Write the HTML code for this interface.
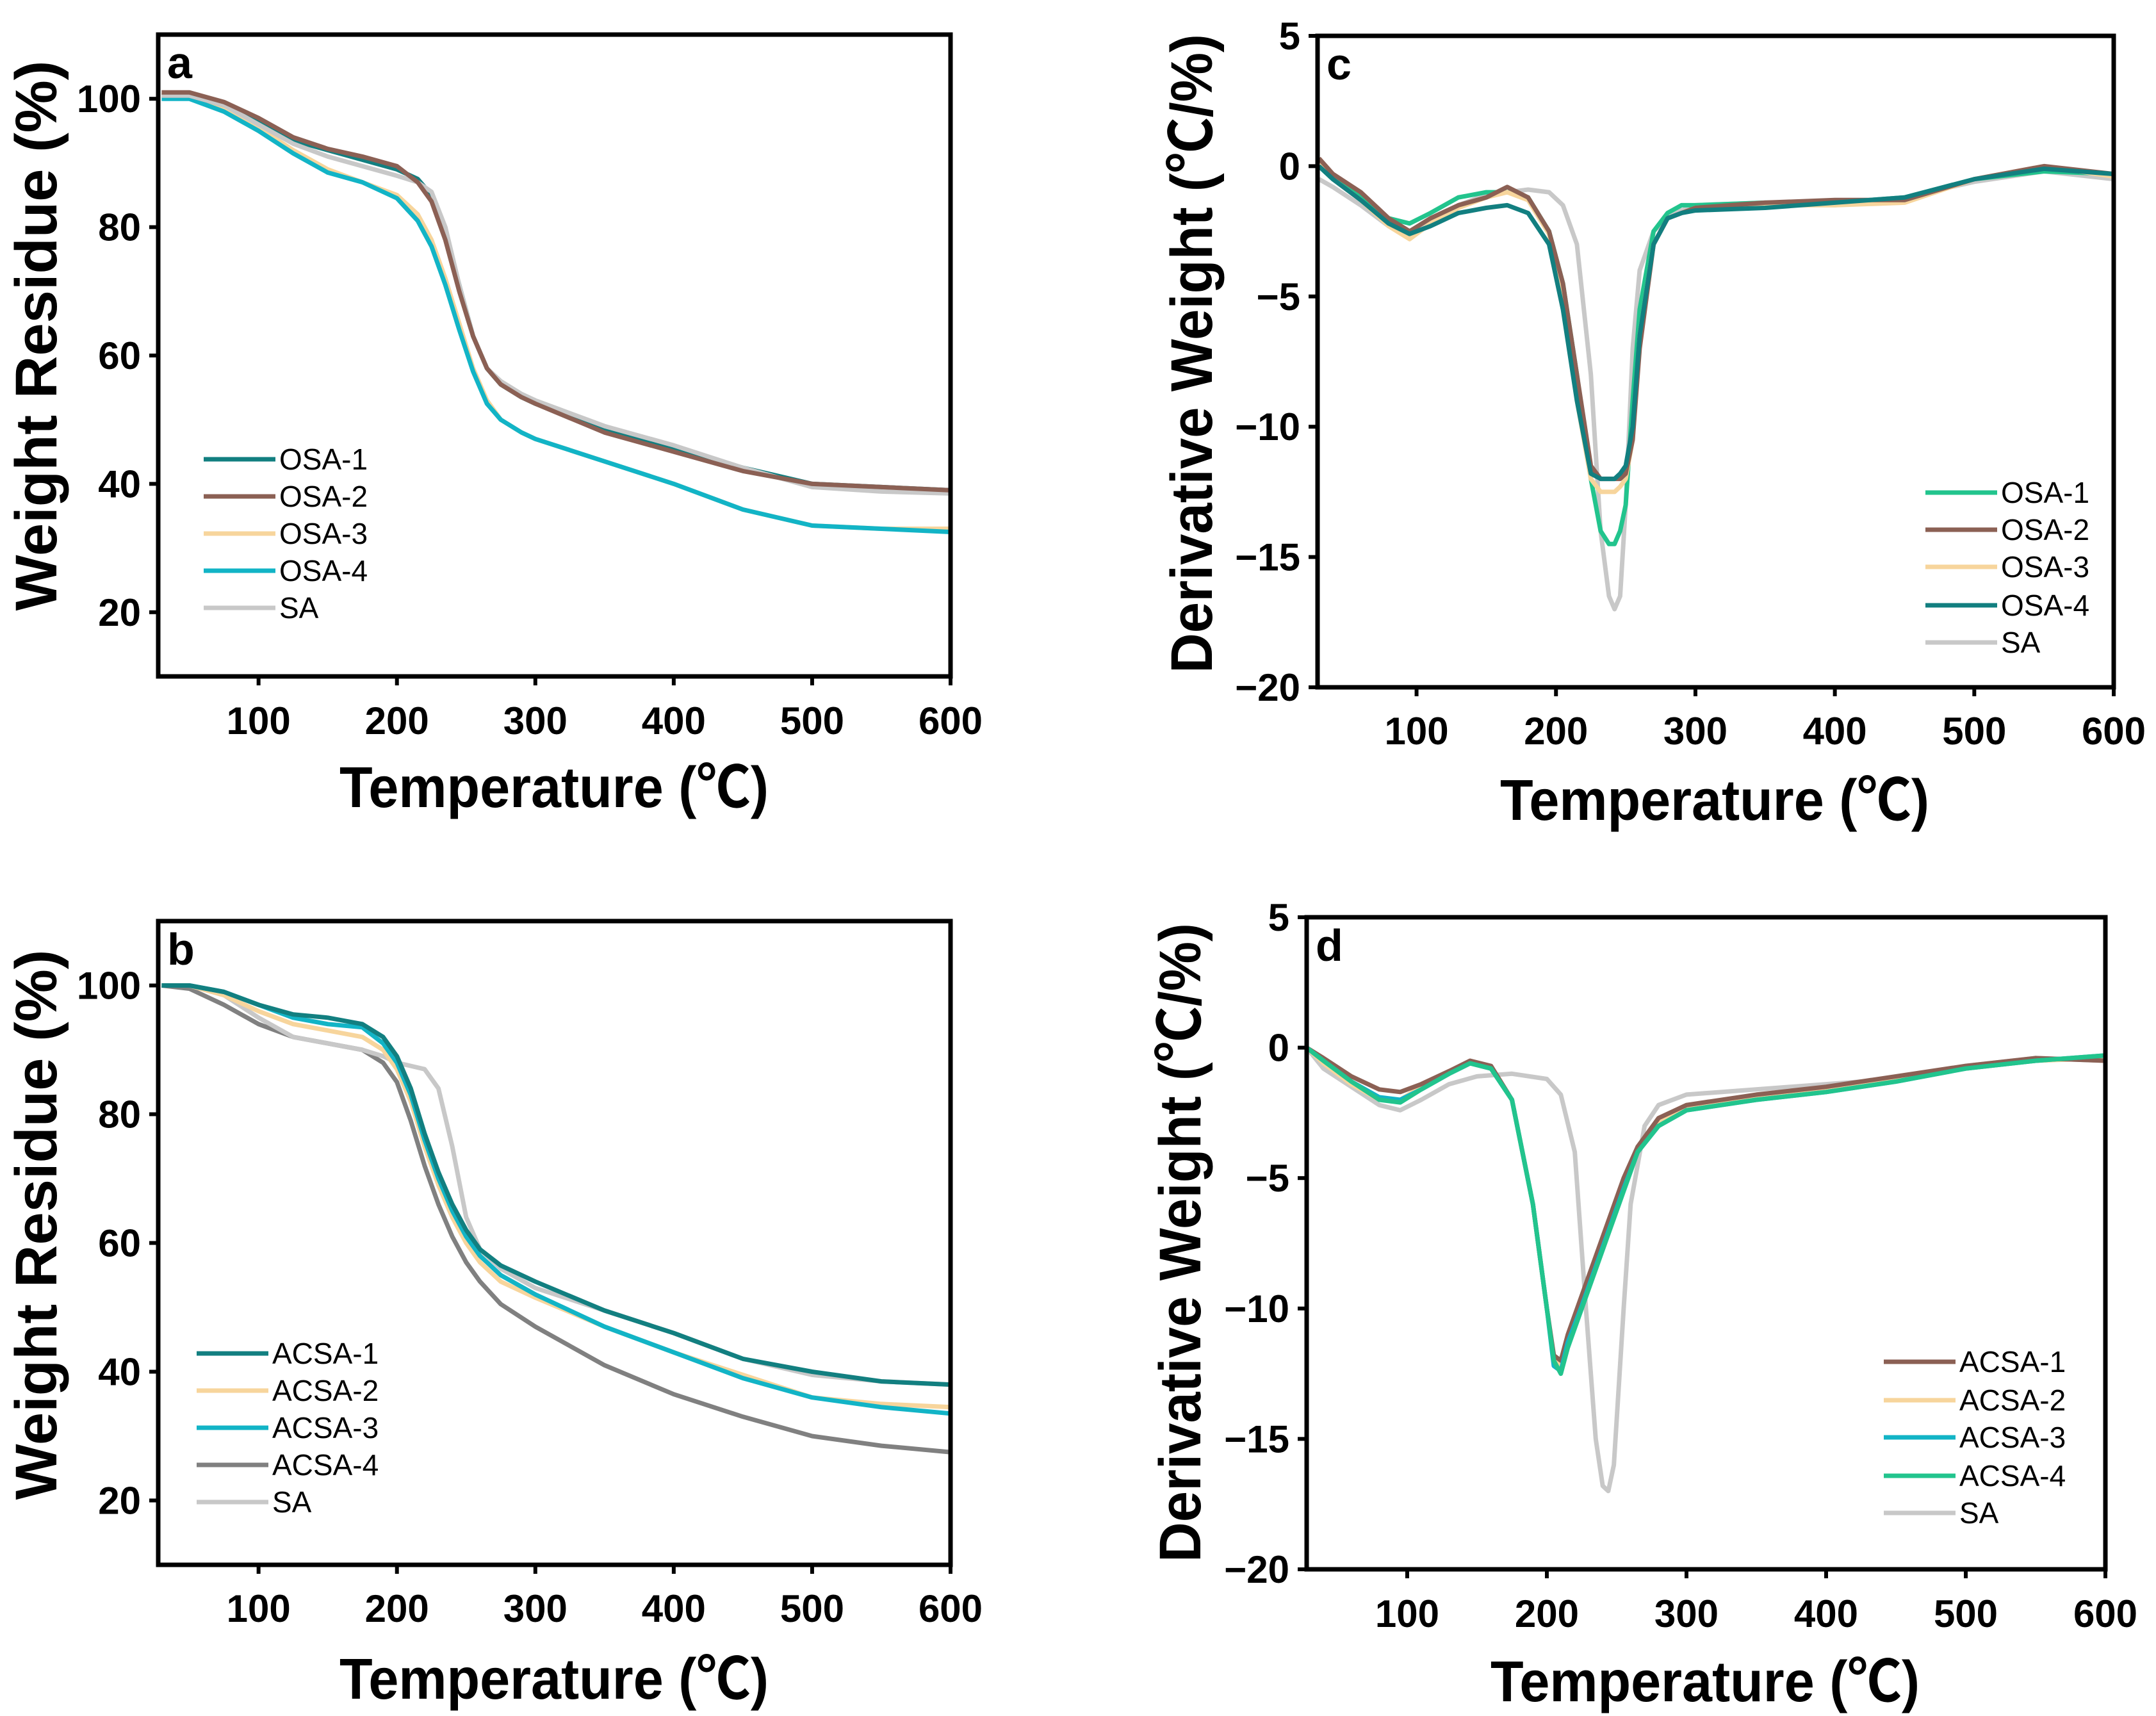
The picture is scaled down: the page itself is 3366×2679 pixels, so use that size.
<!DOCTYPE html>
<html><head><meta charset="utf-8">
<style>
html,body{margin:0;padding:0;background:#fff;}
svg{display:block;font-family:"Liberation Sans","Noto Sans CJK SC",sans-serif;}
</style></head>
<body>
<svg id="fig" width="3366" height="2679" viewBox="0 0 3366 2679" xmlns="http://www.w3.org/2000/svg"></svg>
<script>
// ---------- data ----------
const aX = [30,50,75,100,125,150,175,200,215,225,235,245,255,265,275,290,300,350,400,450,500,550,600];
const aOSA1 = [100.5,100.5,99,96.5,93.5,92,90.5,89,87.5,85,79,71,63,58,55.5,53.5,52.5,48.5,45.5,42.5,40,39.5,39];
const aOSA2 = [101,101,99.5,97,94,92.2,91,89.5,87,84,78,70,63,58,55.5,53.5,52.5,48,45,42,40,39.5,39];
const aOSA3 = [100.5,100.5,98.5,95.5,92,89,87,85,82,78,72,65,58,53,50,48,47,43.5,40,36,33.5,33,33];
const aOSA4 = [100,100,98,95,91.5,88.5,87,84.5,81,77,71,64,57.5,52.5,50,48,47,43.5,40,36,33.5,33,32.5];
const aSA = [100.5,100.5,99,96,93,91,89.5,88,87,85.5,80,71,63,58,56,54,53,49,46,42.5,39.5,38.8,38.5];

const bX = [30,50,75,100,125,150,175,190,200,210,220,230,240,250,260,275,300,350,400,450,500,550,600];
const bACSA1 = [100,100,99,97,95.5,95,94,92,89,84,77,71,66,62,59,56.5,54,49.5,46,42,40,38.5,38];
const bACSA2 = [100,100,98.5,96,94,93,92,90,87,82,75,69,64,60,57,54,51.5,47,43,39.5,36,35,34.5];
const bACSA3 = [100,100,99,97,95,94,93.5,91,88,83,76,70,65,61,58,55,52,47,43,39,36,34.5,33.5];
const bACSA4 = [100,99.5,97,94,92,91,90,88,85,79,72,66,61,57,54,50.5,47,41,36.5,33,30,28.5,27.5];
const bSA = [100,100,98.5,95,92,91,90,89,88,87.5,87,84,75,64,59,56,53,49.5,46,42,39.5,38.5,38];

const cX = [30,40,60,80,95,110,130,150,165,180,195,205,215,225,232,238,242,246,250,255,260,270,280,290,300,350,400,450,500,550,600];
const cOSA1 = [0,-0.5,-1.2,-2,-2.2,-1.8,-1.2,-1,-1,-1.2,-2.5,-4.5,-8,-12,-14,-14.5,-14.5,-14,-13,-9,-5.5,-2.5,-1.8,-1.5,-1.5,-1.4,-1.4,-1.2,-0.5,-0.2,-0.3];
const cOSA2 = [0.3,-0.3,-1,-2,-2.5,-2,-1.5,-1.2,-0.8,-1.2,-2.5,-4.5,-8,-11.5,-12,-12,-12,-12,-11.8,-10.5,-7,-3,-2,-1.8,-1.6,-1.4,-1.3,-1.3,-0.5,0,-0.3];
const cOSA3 = [0.3,-0.5,-1.3,-2.3,-2.8,-2.2,-1.6,-1.2,-1,-1.3,-2.6,-5,-9,-12,-12.5,-12.5,-12.5,-12.3,-12,-10.5,-6.5,-3,-2,-1.8,-1.6,-1.5,-1.5,-1.4,-0.5,0,-0.4];
const cOSA4 = [0,-0.5,-1.3,-2.2,-2.6,-2.3,-1.8,-1.6,-1.5,-1.8,-3,-5.5,-9,-11.8,-12,-12,-12,-11.8,-11.5,-10,-6.5,-3,-2,-1.8,-1.7,-1.6,-1.4,-1.2,-0.5,-0.1,-0.3];
const cSA = [-0.5,-0.8,-1.5,-2.3,-2.6,-2.2,-1.5,-1.1,-1,-0.9,-1,-1.5,-3,-8,-14,-16.5,-17,-16.5,-13,-7,-4,-2.5,-2,-1.7,-1.5,-1.4,-1.5,-1.2,-0.6,-0.2,-0.5];

const dX = [28,40,60,80,95,110,130,145,160,175,190,200,205,210,215,225,235,245,255,265,280,300,350,400,450,500,550,600];
const dACSA1 = [0,-0.4,-1.1,-1.6,-1.7,-1.4,-0.9,-0.5,-0.7,-2,-6,-10,-11.8,-12,-11,-9.5,-8,-6.5,-5,-3.8,-2.7,-2.2,-1.8,-1.5,-1.1,-0.7,-0.4,-0.5];
const dACSA2 = [0,-0.6,-1.4,-2,-2,-1.5,-0.9,-0.6,-0.8,-2,-6,-10,-12,-12.2,-11.2,-9.8,-8.3,-6.8,-5.3,-3.9,-2.9,-2.3,-1.9,-1.6,-1.2,-0.8,-0.5,-0.4];
const dACSA3 = [0,-0.5,-1.3,-1.9,-2,-1.6,-1,-0.6,-0.8,-2,-6,-10,-12.2,-12.4,-11.3,-9.9,-8.4,-6.9,-5.4,-4,-3,-2.4,-2,-1.7,-1.3,-0.8,-0.5,-0.3];
const dACSA4 = [0,-0.5,-1.3,-2,-2.1,-1.6,-1,-0.6,-0.8,-2,-6,-10,-12,-12.5,-11.5,-10,-8.5,-7,-5.5,-4,-3,-2.4,-2,-1.7,-1.3,-0.8,-0.5,-0.3];
const dSAX = [28,40,60,80,95,110,130,150,175,200,210,220,228,235,240,244,248,255,260,270,280,300,350,400,450,500,550,600];
const dSA = [0,-0.8,-1.5,-2.2,-2.4,-2.0,-1.4,-1.1,-1,-1.2,-1.8,-4,-10,-15,-16.8,-17,-16,-10,-6,-3,-2.2,-1.8,-1.6,-1.4,-1.2,-0.7,-0.4,-0.5];

const xTicks = [100,200,300,400,500,600];
const tgaTicks = [20,40,60,80,100];
const dtgTicks = [5,0,-5,-10,-15,-20];

// ---------- drawing ----------
const NS = "http://www.w3.org/2000/svg";
const svg = document.getElementById('fig');
function mk(tag, attrs, parent){
  const e = document.createElementNS(NS, tag);
  for (const k in attrs) e.setAttribute(k, attrs[k]);
  (parent||svg).appendChild(e);
  return e;
}
function tx(parent, x, y, s, size, anchor, weight){
  const t = mk('text', {x:x, y:y, 'font-size':size, 'text-anchor':anchor||'middle', 'font-weight':weight||'bold', fill:'#000'}, parent);
  t.textContent = s;
  return t;
}

function panel(p, drawOrder){
  const g = mk('g', {});
  
  
  const sx = v => p.L + (v - p.xmin) / (p.xmax - p.xmin) * (p.R - p.L);
  const sy = v => p.B - (v - p.ymin) / (p.ymax - p.ymin) * (p.B - p.T);
  drawOrder.forEach(s => {
    const d = s.y.map((v,i) => (i?'L':'M') + sx(s.x[i]).toFixed(1) + ' ' + sy(v).toFixed(1)).join(' ');
    const path = mk('path', {d:d, fill:'none', stroke:s.c, 'stroke-width':7, 'stroke-linejoin':'round'}, g);
    
    
  });
  const fr = mk('rect', {x:p.L, y:p.T, width:p.R-p.L, height:p.B-p.T, fill:'none', stroke:'#000', 'stroke-width':7}, g);
  
  
  xTicks.forEach(v => {
    const x = sx(v);
    mk('line', {x1:x, y1:p.B, x2:x, y2:p.B+14, stroke:'#000', 'stroke-width':6}, g);
    const t = tx(g, x, p.xlY, String(v), 60);
    
    
  });
  p.yt.forEach(v => {
    const y = sy(v);
    mk('line', {x1:p.L-14, y1:y, x2:p.L, y2:y, stroke:'#000', 'stroke-width':6}, g);
    const t = tx(g, p.ylX, y+21, String(v).replace('-', '\u2212'), 60, 'end');
    
    
  });
  const xt = tx(g, p.xtX, p.xtY, 'Temperature (\u2103)', 90);
  xt.setAttribute('textLength', 670);
  xt.setAttribute('lengthAdjust', 'spacingAndGlyphs');
  
  
  const yt = tx(g, 0, 0, p.ytitle, 92);
  yt.setAttribute('textLength', p.ytLen);
  yt.setAttribute('lengthAdjust', 'spacingAndGlyphs');
  yt.setAttribute('transform', 'translate(' + p.ytX + ',' + p.ytY + ') rotate(-90)');
  
  
  const lt = tx(g, p.L+14, p.T+68, p.letter, 70, 'start');
  
  
  p.series.forEach((s,i) => {
    const y = p.legY[i];
    const le = mk('g', {}, g);
    
    
    mk('line', {x1:p.legX, y1:y, x2:p.legX+112, y2:y, stroke:s.c, 'stroke-width':7}, le);
    tx(le, p.legX+118, y+16, s.n, 46, 'start', 'normal');
  });
}

const teal='#127f80', brown='#8b6054', orange='#f7d59c', cyan='#12b4c6', lgray='#c8c8c8', dgray='#808080', green='#22c48d';

const A = {OSA1:{n:'OSA-1',x:aX,y:aOSA1,c:teal},OSA2:{n:'OSA-2',x:aX,y:aOSA2,c:brown},OSA3:{n:'OSA-3',x:aX,y:aOSA3,c:orange},OSA4:{n:'OSA-4',x:aX,y:aOSA4,c:cyan},SA:{n:'SA',x:aX,y:aSA,c:lgray}};
panel({name:'panel-a', letter:'a', L:247, R:1484, T:54, B:1056, xmin:27.5, xmax:600, ymin:10, ymax:110,
  yt:tgaTicks, xlY:1146, ylX:220, xtX:865, xtY:1260, ytX:88, ytY:524, ytLen:859, ytitle:'Weight Residue (%)',
  legX:318, legY:[717,775,833,891,949], series:[A.OSA1,A.OSA2,A.OSA3,A.OSA4,A.SA]},
  [A.OSA3,A.OSA4,A.OSA1,A.SA,A.OSA2]);

const Bs = {A1:{n:'ACSA-1',x:bX,y:bACSA1,c:teal},A2:{n:'ACSA-2',x:bX,y:bACSA2,c:orange},A3:{n:'ACSA-3',x:bX,y:bACSA3,c:cyan},A4:{n:'ACSA-4',x:bX,y:bACSA4,c:dgray},SA:{n:'SA',x:bX,y:bSA,c:lgray}};
panel({name:'panel-b', letter:'b', L:247, R:1484, T:1438, B:2443, xmin:27.5, xmax:600, ymin:10, ymax:110,
  yt:tgaTicks, xlY:2532, ylX:220, xtX:865, xtY:2652, ytX:88, ytY:1912, ytLen:859, ytitle:'Weight Residue (%)',
  legX:307, legY:[2113,2171,2229,2287,2345], series:[Bs.A1,Bs.A2,Bs.A3,Bs.A4,Bs.SA]},
  [Bs.A4,Bs.SA,Bs.A2,Bs.A3,Bs.A1]);

const C = {O1:{n:'OSA-1',x:cX,y:cOSA1,c:green},O2:{n:'OSA-2',x:cX,y:cOSA2,c:brown},O3:{n:'OSA-3',x:cX,y:cOSA3,c:orange},O4:{n:'OSA-4',x:cX,y:cOSA4,c:teal},SA:{n:'SA',x:cX,y:cSA,c:lgray}};
panel({name:'panel-c', letter:'c', L:2057, R:3300, T:56, B:1073, xmin:29, xmax:600, ymin:-20, ymax:5,
  yt:dtgTicks, xlY:1162, ylX:2030, xtX:2677, xtY:1280, ytX:1892, ytY:552, ytLen:998, ytitle:'Derivative Weight (\u2103/%)',
  legX:3006, legY:[769,827,885,945,1003], series:[C.O1,C.O2,C.O3,C.O4,C.SA]},
  [C.SA,C.O1,C.O3,C.O2,C.O4]);

const D = {A1:{n:'ACSA-1',x:dX,y:dACSA1,c:brown},A2:{n:'ACSA-2',x:dX,y:dACSA2,c:orange},A3:{n:'ACSA-3',x:dX,y:dACSA3,c:cyan},A4:{n:'ACSA-4',x:dX,y:dACSA4,c:green},SA:{n:'SA',x:dSAX,y:dSA,c:lgray}};
panel({name:'panel-d', letter:'d', L:2040, R:3287, T:1432, B:2450, xmin:28, xmax:600, ymin:-20, ymax:5,
  yt:dtgTicks, xlY:2540, ylX:2013, xtX:2662, xtY:2656, ytX:1874, ytY:1940, ytLen:998, ytitle:'Derivative Weight (\u2103/%)',
  legX:2941, legY:[2126,2186,2244,2304,2362], series:[D.A1,D.A2,D.A3,D.A4,D.SA]},
  [D.SA,D.A2,D.A1,D.A3,D.A4]);
</script>
</body></html>
